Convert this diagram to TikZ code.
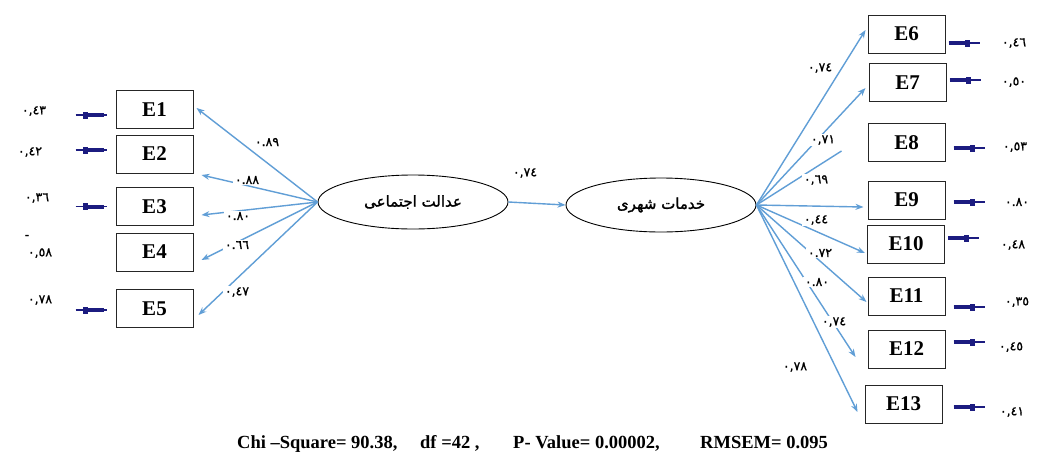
\documentclass[tikz,border=0pt]{standalone}
\usepackage{fontspec}
\setmainfont{Liberation Serif}
\newfontfamily\arabicfont[Script=Arabic,FakeBold=1.5]{DejaVu Sans}
\newfontfamily\numfont[FakeBold=1]{DejaVu Sans}
\TeXXeTstate=1
\usetikzlibrary{shapes.geometric,arrows.meta}
\definecolor{loadc}{RGB}{96,158,214}
\definecolor{resc}{RGB}{28,28,128}
\tikzset{
  ind/.style={draw=black!85,line width=1pt,minimum width=77pt,minimum height=38pt,inner sep=0pt,font=\fontsize{21}{21}\selectfont\bfseries},
  lat/.style={draw=black,line width=0.9pt,ellipse,minimum width=190pt,minimum height=54pt,inner sep=0pt,font=\arabicfont\fontsize{15}{15}\selectfont},
  load/.style={draw=loadc,line width=1.4pt,-{Stealth[length=8pt,width=6pt]}},
  loadplain/.style={draw=loadc,line width=1.4pt},
  num/.style={font=\numfont\fontsize{12.5}{12.5}\selectfont,inner sep=1.5pt,fill=white},
  capt/.style={font=\fontsize{18.5}{18.5}\selectfont\bfseries,anchor=base west,inner sep=0pt}
}
\newcommand\resL[2]{%
  \draw[resc,line width=1.4pt] ([shift={(-40,#2)}]#1.west) -- ([shift={(-9,#2)}]#1.west);
  \draw[resc,line width=4pt] ([shift={(-31,#2)}]#1.west) -- ([shift={(-12,#2)}]#1.west);
  \fill[resc] ([shift={(-33,#2-3.5)}]#1.west) rectangle ([shift={(-28,#2+3.5)}]#1.west);
}
\newcommand\resR[3]{%
  \draw[resc,line width=1.4pt] ([shift={(#3,#2)}]#1.east) -- ([shift={(#3+31,#2)}]#1.east);
  \draw[resc,line width=4pt] ([shift={(#3,#2)}]#1.east) -- ([shift={(#3+19,#2)}]#1.east);
  \fill[resc] ([shift={(#3+16,#2-3.5)}]#1.east) rectangle ([shift={(#3+21,#2+3.5)}]#1.east);
}
\begin{document}
\begin{tikzpicture}[x=1pt,y=-1pt]
\useasboundingbox (0,0) rectangle (1040,453);
\fill[white] (0,0) rectangle (1040,453);
% indicators
\node[ind] (E1) at (154.5,109.5) {E1};
\node[ind] (E2) at (154.5,154) {E2};
\node[ind] (E3) at (154.5,206.5) {E3};
\node[ind] (E4) at (154.5,252) {E4};
\node[ind] (E5) at (154.5,308.5) {E5};
\node[ind] (E6) at (906.5,34) {E6};
\node[ind] (E7) at (907.5,82.5) {E7};
\node[ind] (E8) at (906.5,142.5) {E8};
\node[ind] (E9) at (906.5,200) {E9};
\node[ind] (E10) at (906,244) {E10};
\node[ind] (E11) at (906.5,296) {E11};
\node[ind] (E12) at (906.5,349) {E12};
\node[ind] (E13) at (903.5,404) {E13};
% latent
\node[lat] (L) at (413,202) {\beginR عدالت اجتماعی\endR};
\node[lat] (R) at (661,205) {\beginR خدمات شهری\endR};
% loadings left
\draw[load] (L.west) -- ([shift={(3,-1.5)}]E1.east);
\draw[load] (L.west) -- ([shift={(8,21)}]E2.east);
\draw[load] (L.west) -- ([shift={(8,8.5)}]E3.east);
\draw[load] (L.west) -- ([shift={(8,8)}]E4.east);
\draw[load] (L.west) -- ([shift={(5,6.5)}]E5.east);
% structural
\draw[load] (L.east) -- (R.west);
% loadings right
\draw[load] (R.east) -- ([shift={(-2,-4)}]E6.west);
\draw[load] (R.east) -- ([shift={(-3,5.5)}]E7.west);
\draw[loadplain] (R.east) -- ([shift={(-26,8.5)}]E8.west);
\draw[load] (R.east) -- ([shift={(-4,7)}]E9.west);
\draw[load] (R.east) -- ([shift={(-2,9)}]E10.west);
\draw[load] (R.east) -- ([shift={(-1,6)}]E11.west);
\draw[load] (R.east) -- ([shift={(-12,8)}]E12.west);
\draw[load] (R.east) -- ([shift={(-7,8)}]E13.west);
% residuals
\resL{E1}{5.5}
\resL{E2}{-4}
\resL{E3}{0}
\resL{E5}{1.5}
\resR{E6}{9}{3}
\resR{E7}{-2.5}{3}
\resR{E8}{5.5}{8}
\resR{E9}{2}{8}
\resR{E10}{-6}{3}
\resR{E11}{11}{8}
\resR{E12}{-7}{8}
\resR{E13}{3}{11}
% residual labels left
\node[num] (r1) at (34,111) {٠,٤٣};
\node[num] (r2) at (30,152) {٠,٤٢};
\node[num] (r3) at (37,198) {٠,٣٦};
\node[num] (r4m) at (27,237) {-};
\node[num] (r4) at (40,253) {٠,٥٨};
\node[num] (r5) at (40,300) {٠,٧٨};
% loading labels left
\node[num] (l1) at (267,142) {٠.٨٩};
\node[num] (l2) at (247,180) {٠.٨٨};
\node[num] (l3) at (238,216) {٠.٨٠};
\node[num] (l4) at (237,245) {٠.٦٦};
\node[num] (l5) at (237,292) {٠,٤٧};
% structural label
\node[num] (s1) at (525,173) {٠,٧٤};
% loading labels right
\node[num] (l6) at (820,68) {٠,٧٤};
\node[num] (l7) at (823,140) {٠,٧١};
\node[num] (l8) at (816,180) {٠,٦٩};
\node[num] (l9) at (816,220) {٠,٤٤};
\node[num] (l10) at (820,253) {٠.٧٢};
\node[num] (l11) at (817,282) {٠.٨٠};
\node[num] (l12) at (834,322) {٠,٧٤};
\node[num] (l13) at (795,367) {٠,٧٨};
% residual labels right
\node[num] (r6) at (1014,43) {٠,٤٦};
\node[num] (r7) at (1014,82) {٠,٥٠};
\node[num] (r8) at (1015,147) {٠,٥٣};
\node[num] (r9) at (1017,202) {٠.٨٠};
\node[num] (r10) at (1013,245) {٠,٤٨};
\node[num] (r11) at (1017,302) {٠,٣٥};
\node[num] (r12) at (1011,347) {٠,٤٥};
\node[num] (r13) at (1012,412) {٠,٤١};
% fit statistics
\node[capt] (c1) at (237,448) {Chi –Square= 90.38,};
\node[capt] (c2) at (420,448) {df =42 ,};
\node[capt] (c3) at (513,448) {P- Value= 0.00002,};
\node[capt] (c4) at (700,448) {RMSEM= 0.095};
\end{tikzpicture}
\end{document}
